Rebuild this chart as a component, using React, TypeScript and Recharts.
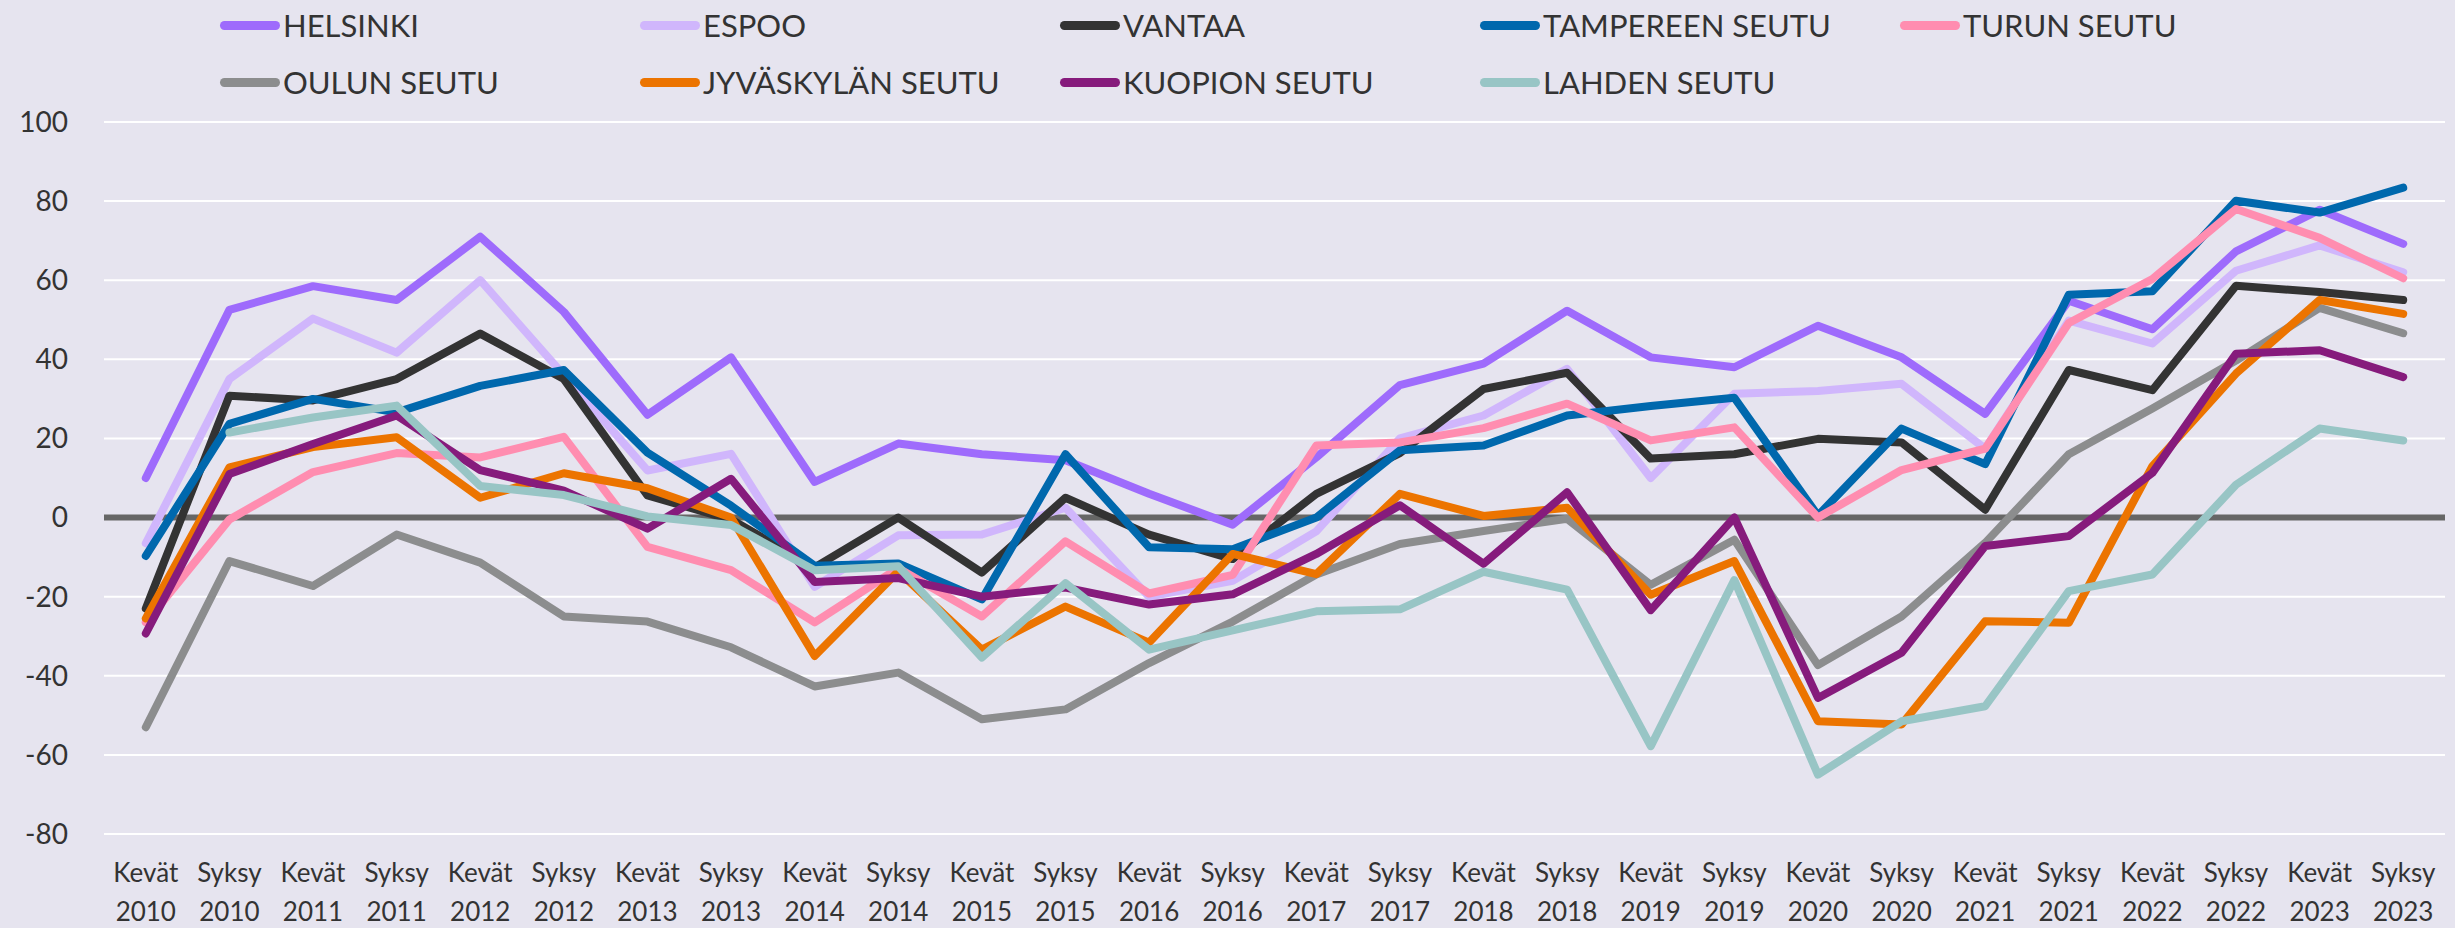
import React from 'react';
import { LineChart, Line, XAxis, YAxis, CartesianGrid, ReferenceLine } from 'recharts';

const seasons = ['Kevät', 'Syksy'];
const years = [2010, 2011, 2012, 2013, 2014, 2015, 2016, 2017, 2018, 2019, 2020, 2021, 2022, 2023];
const categories: string[] = years.flatMap((y) => seasons.map((s) => `${s} ${y}`));
const yTicks = [-80, -60, -40, -20, 0, 20, 40, 60, 80, 100];

const helsinki = [10, 52.5, 58.5, 55, 71, 52, 26, 40.5, 9, 18.7, 16, 14.5, 6, -1.8, 15.2, 33.5, 38.9, 52.3, 40.5, 38, 48.5, 40.5, 26.2, 54.8, 47.6, 67.3, 77.8, 69.2];
const espoo = [-6.5, 35, 50.3, 41.7, 60, 36, 11.9, 16.1, -17.5, -4.5, -4.3, 2.5, -20, -16, -3.5, 20, 25.8, 37.6, 10, 31.3, 32, 33.8, 17.4, 49.8, 44, 62.4, 68.8, 62];
const vantaa = [-23, 30.8, 29.6, 35, 46.5, 35, 5.6, -0.5, -12.6, 0, -13.9, 5, -4.3, -10.5, 6, 16.3, 32.5, 36.6, 14.9, 16, 19.9, 19, 2, 37.3, 32.2, 58.6, 57, 55];
const tampere = [-9.7, 23.7, 30, 26.6, 33.3, 37.3, 16.4, 3, -12.2, -11.6, -20.7, 16, -7.5, -8, 0, 17, 18.2, 25.8, 28.2, 30.3, 0.5, 22.5, 13.5, 56.3, 57.2, 80.1, 77.1, 83.4];
const turku = [-26.5, -0.5, 11.5, 16.3, 15.2, 20.4, -7.4, -13.3, -26.5, -12.8, -25, -6, -19.2, -14.5, 18.2, 19, 22.6, 28.8, 19.5, 22.8, 0, 12, 17.4, 49.2, 60.3, 78, 70.7, 60.5];
const oulu = [-53, -11, -17.3, -4.3, -11.4, -25, -26.3, -32.8, -42.7, -39.2, -51, -48.5, -36.8, -26.3, -14.4, -6.7, -3.4, -0.3, -17, -5.6, -37.3, -25, -6.4, 16, 27.6, 39.7, 53, 46.6];
const jyvaskyla = [-25.5, 12.7, 17.8, 20.3, 5, 11.2, 7.4, 0, -35, -13.6, -33.4, -22.5, -31.6, -9.2, -14.3, 6, 0.4, 2.5, -19.5, -11, -51.5, -52.3, -26.2, -26.6, 13, 36.4, 55, 51.5];
const kuopio = [-29.3, 11, 18.6, 25.8, 12, 6.8, -2.8, 9.8, -16.3, -15.3, -20, -17.7, -22, -19.4, -9.2, 3.1, -11.7, 6.4, -23.4, 0, -45.6, -34.2, -7.2, -4.7, 11.3, 41.4, 42.3, 35.5];
const lahti = [null, 21.5, 25.3, 28.3, 8, 5.7, 0.3, -1.9, -13.3, -12.3, -35.4, -16.6, -33.4, -28.5, -23.7, -23.2, -13.7, -18.2, -57.8, -15.8, -65, -51.5, -47.7, -18.6, -14.4, 8.3, 22.5, 19.5];

const seriesNames = ['HELSINKI', 'ESPOO', 'VANTAA', 'TAMPEREEN SEUTU', 'TURUN SEUTU', 'OULUN SEUTU', 'JYVÄSKYLÄN SEUTU', 'KUOPION SEUTU', 'LAHDEN SEUTU'];
const seriesValues = [helsinki, espoo, vantaa, tampere, turku, oulu, jyvaskyla, kuopio, lahti];
const seriesColors = ['#9e6bfc', '#d0b6fc', '#333333', '#0068ad', '#ff8db0', '#8c8d8e', '#ec7400', '#861b7c', '#98c5c5'];

const data = categories.map((c, i) => {
  const row: Record<string, any> = { cat: c };
  seriesNames.forEach((n, k) => {
    row[n] = seriesValues[k][i];
  });
  return row;
});

const W = 2455;
const H = 928;
const FONT = 'Lato, "Open Sans", sans-serif';
const TEXT = '#333333';

const XTick = (props: any) => {
  const { x, y, payload } = props;
  const [s, yr] = String(payload.value).split(' ');
  return (
    <text x={x} y={y} textAnchor="middle" fill={TEXT} fontSize={26} fontFamily={FONT}>
      <tspan x={x} dy={48}>{s}</tspan>
      <tspan x={x} dy={39}>{yr}</tspan>
    </text>
  );
};

const LegendOverlay = () => (
  <div style={{ position: 'absolute', left: 0, top: 0, width: W, height: 110, pointerEvents: 'none' }}>
    {seriesNames.map((n, k) => {
      const row = k < 5 ? 0 : 1;
      const col = k < 5 ? k : k - 5;
      const left = 220 + col * 420;
      const cy = row === 0 ? 25 : 82;
      return (
        <div key={n} style={{ position: 'absolute', left, top: cy - 20, height: 40, display: 'flex', alignItems: 'center', whiteSpace: 'nowrap' }}>
          <div style={{ width: 60, height: 9, borderRadius: 5, background: seriesColors[k], marginRight: 3 }} />
          <span style={{ fontFamily: FONT, fontSize: 31, color: TEXT, lineHeight: '40px' }}>{n}</span>
        </div>
      );
    })}
  </div>
);

export default function App() {
  return (
    <div style={{ position: 'absolute', left: 0, top: 0, width: W, height: H, background: '#e6e4ef', overflow: 'hidden' }}>
      <LineChart width={W} height={H} data={data} margin={{ top: 122, right: 10, bottom: 0, left: 0 }}>
        <CartesianGrid vertical={false} stroke="#ffffff" strokeWidth={2} />
        <XAxis
          dataKey="cat"
          interval={0}
          tick={<XTick />}
          tickLine={false}
          axisLine={false}
          tickSize={0}
          tickMargin={0}
          height={94}
          padding={{ left: 41.8, right: 41.8 }}
        />
        <YAxis
          domain={[-80, 100]}
          ticks={yTicks}
          width={104}
          tickLine={false}
          axisLine={false}
          tickSize={0}
          tickMargin={36}
          tick={{ fill: TEXT, fontSize: 28, fontFamily: FONT }}
        />
        <ReferenceLine y={0} stroke="#666666" strokeWidth={6} />
        {seriesNames.map((n, k) => (
          <Line
            key={n}
            type="linear"
            dataKey={n}
            stroke={seriesColors[k]}
            strokeWidth={8}
            strokeLinecap="round"
            strokeLinejoin="round"
            dot={false}
            activeDot={false}
            isAnimationActive={false}
          />
        ))}
      </LineChart>
      <LegendOverlay />
    </div>
  );
}
